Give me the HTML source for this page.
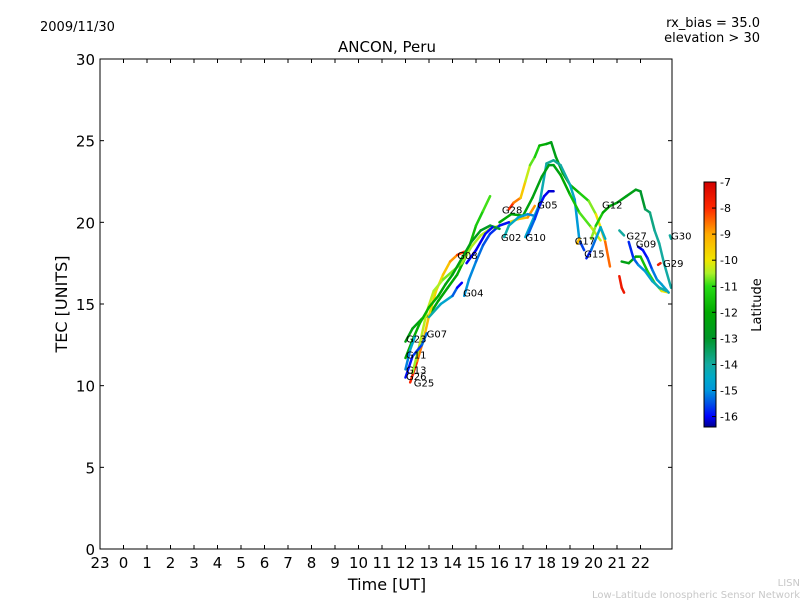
<!DOCTYPE html>
<html><head><meta charset="utf-8"><style>
body{margin:0;background:#fff;}
svg{display:block;font-family:"DejaVu Sans","Liberation Sans",sans-serif;}
</style></head><body>
<svg id="chart" width="800" height="600" viewBox="0 0 800 600">
<defs><linearGradient id="jet" x1="0" y1="1" x2="0" y2="0"></linearGradient></defs>
<text x="40" y="31" font-size="13">2009/11/30</text>
<text x="760" y="27" font-size="13" text-anchor="end">rx_bias = 35.0</text>
<text x="760" y="42" font-size="13" text-anchor="end">elevation &gt; 30</text>
<text x="387" y="52" font-size="15" text-anchor="middle">ANCON, Peru</text>
<text x="0" y="0" font-size="16" text-anchor="middle" transform="translate(67,304) rotate(-90)">TEC [UNITS]</text>
<text x="387" y="590" font-size="16" text-anchor="middle">Time [UT]</text>
<text x="800" y="586" font-size="10" fill="#c8c8c8" text-anchor="end">LISN</text>
<text x="800" y="598" font-size="10" fill="#c8c8c8" text-anchor="end">Low-Latitude Ionospheric Sensor Network</text>
<g id="ticks"></g>
<g id="tracks"></g>
<g id="labels"></g>
<rect x="100" y="59" width="572" height="490" fill="none" stroke="#000" stroke-width="1"/>
<rect x="704" y="182" width="12" height="245" fill="url(#jet)" stroke="#000" stroke-width="1"/>
<g id="cbticks"></g>
<text x="0" y="0" font-size="13" text-anchor="middle" transform="translate(761,305) rotate(-90)">Latitude</text>
</svg>
<script>
const xTicks=[-1,0,1,2,3,4,5,6,7,8,9,10,11,12,13,14,15,16,17,18,19,20,21,22];
const xTickLabels=["23","0","1","2","3","4","5","6","7","8","9","10","11","12","13","14","15","16","17","18","19","20","21","22"];
const yTicks=[0,5,10,15,20,25,30];
const cbTicks=[-7,-8,-9,-10,-11,-12,-13,-14,-15,-16];
const trackG23=[[12.0,12.7,-12.5],[12.3,13.5,-12.3],[12.7,14.1,-12.5],[13.0,14.3,-12.3],[13.4,15.2,-12],[13.8,16.0,-12.2],[14.2,16.8,-12],[14.6,18.0,-11.8],[15.0,19.8,-11.5],[15.3,20.7,-11.2],[15.6,21.6,-10.6]];
const trackG25=[[12.2,10.2,-7.6],[12.5,11.5,-8.2],[12.8,13.0,-9.0],[13.0,14.3,-9.6],[13.3,15.8,-9.9],[13.6,16.8,-9.6],[13.9,17.6,-9.2],[14.2,18.0,-8.5],[14.5,18.2,-7.8]];
const trackG07=[[12.3,10.8,-10.6],[12.6,12.5,-10.5],[12.9,14.5,-10.3],[13.2,15.8,-10.4],[13.6,16.5,-10.6],[14.0,17.0,-10.8],[14.4,17.5,-10.6],[14.8,18.5,-10.5],[15.2,19.2,-10.4],[15.6,19.6,-10.3],[16.0,19.8,-10.2],[16.4,20.0,-10.0],[16.8,20.2,-9.6],[17.2,20.3,-9.2],[17.5,21.0,-8.5]];
const trackG28=[[16.4,20.8,-7.8],[16.6,21.2,-8.3],[16.9,21.5,-9.0],[17.1,22.5,-10.0],[17.3,23.5,-10.6],[17.5,24.0,-11.0],[17.7,24.7,-11.6],[18.0,24.8,-12.2],[18.2,24.9,-12.5],[18.4,24.0,-12.6],[18.7,23.0,-12.4],[19.0,22.3,-12.0],[19.4,21.8,-11.6],[19.8,21.3,-11.0],[20.1,20.5,-10.3],[20.3,19.7,-9.6],[20.5,18.8,-9.0],[20.7,17.3,-8.0]];
const trackG10=[[17.1,19.1,-14.8],[17.7,21.1,-14.4],[18.0,23.6,-14.0],[18.3,23.8,-13.9],[18.6,23.5,-13.9],[19.0,22.3,-14.2],[19.2,21.4,-14.6],[19.4,18.9,-15.2],[19.6,18.3,-16.0]];
const trackG05=[[16.0,20.0,-12.2],[16.5,20.5,-12.0],[17.0,20.4,-12.3],[17.4,21.5,-12.4],[17.8,22.8,-12.5],[18.1,23.5,-12.6],[18.3,23.5,-12.6],[18.6,22.9,-12.2],[19.0,21.7,-11.8],[19.4,20.6,-11.2],[19.9,19.7,-10.5],[20.3,18.9,-10.0]];
const trackG12=[[19.9,19.0,-10.2],[20.1,19.8,-11.0],[20.4,20.6,-11.8],[20.7,21.0,-12.2],[21.0,21.2,-12.4],[21.4,21.6,-12.5],[21.8,22.0,-12.6],[22.0,21.9,-12.8],[22.2,20.8,-13.3],[22.4,20.6,-13.6],[22.6,19.5,-13.9],[22.8,18.7,-14.0],[23.0,17.5,-14.0],[23.3,16.0,-14.1]];
const trackG27a=[[21.1,19.5,-14.0],[21.3,19.2,-14.0]];
const trackG27b=[[21.2,17.6,-12.6],[21.5,17.5,-12.4],[21.8,17.9,-12.2],[22.0,17.9,-11.8],[22.3,17.0,-11.3],[22.6,16.3,-11.0],[22.9,15.8,-10.3],[23.2,15.7,-9.6]];
const trackG09=[[21.9,18.5,-16.1],[22.1,18.3,-16.0],[22.3,17.8,-15.8],[22.5,17.1,-15.4],[22.7,16.5,-15.0],[22.9,16.2,-14.8],[23.2,15.7,-14.6]];
const trackG27c=[[21.5,18.8,-15.9],[21.7,17.8,-15.6],[21.9,17.4,-15.2],[22.2,17.0,-14.9],[22.5,16.4,-14.5],[22.8,16.0,-14.2],[23.1,15.8,-14.0]];
const trackRed=[[21.1,16.7,-7.7],[21.2,16.0,-7.6],[21.3,15.7,-7.6]];
const trackG15=[[19.7,17.8,-16.0],[19.9,18.3,-15.6],[20.1,19.0,-15.0],[20.3,19.7,-14.6],[20.5,19.0,-14.3]];
const trackG17=[[19.3,18.7,-9.3],[19.4,19.0,-9.3]];
const trackG29=[[22.75,17.4,-7.7],[22.85,17.5,-7.7]];
const trackG30=[[23.25,19.2,-14],[23.3,19.0,-14]];
const trackG02=[[16.2,19.1,-14.0],[16.4,19.8,-14.3],[16.8,20.3,-14.6],[17.2,20.5,-15.0],[17.5,20.4,-15.2]];
const trackB=[[17.2,19.2,-15.2],[17.5,20.2,-15.5],[17.7,21.0,-15.8],[17.9,21.6,-16.0],[18.1,21.9,-16.1],[18.3,21.9,-16.2]];
const trackG04=[[14.5,15.5,-15.0],[14.7,16.5,-15.0],[15.0,17.6,-15.2],[15.3,18.6,-15.4],[15.6,19.3,-15.6],[16.0,19.8,-15.8],[16.4,20.0,-16.0]];
const trackG13=[[12.0,10.5,-16.0],[12.3,11.8,-15.8],[12.7,12.5,-15.5],[12.9,13.2,-15.2]];
const trackG11=[[12.0,11.7,-12.2],[12.3,12.8,-12.0],[12.6,13.8,-11.8],[13.0,14.8,-11.8],[13.4,15.5,-12.0],[13.7,16.2,-12.2],[14.0,16.8,-12.3],[14.4,17.8,-12.4],[14.8,18.8,-12.5],[15.2,19.5,-12.7],[15.6,19.8,-13.0],[16.0,19.6,-13.2]];
const trackTeal=[[13.0,14.2,-14.0],[13.5,15.0,-14.3],[14.0,15.5,-15.0],[14.2,16.0,-15.8],[14.4,16.3,-16.2]];
const trackBlue2=[[14.6,17.5,-16.0],[15.0,18.3,-16.1],[15.4,19.3,-16.0],[15.7,19.7,-15.9]];
const trackG26=[[12.0,11.0,-15.5],[12.2,12.2,-14.8],[12.4,13.0,-14.3]];
const tracks=[trackG23,trackG25,trackG07,trackG28,trackG10,trackG05,trackG12,trackG27a,trackG27b,trackG09,trackG27c,trackRed,trackG15,trackG17,trackG29,trackG30,trackG02,trackB,trackG04,trackG13,trackG11,trackTeal,trackBlue2,trackG26];
const labelNames=["G23","G07","G11","G13","G26","G25","G04","G08","G28","G02","G10","G05","G17","G15","G12","G27","G09","G30","G29"];
const labelX=[12.02,12.9,12.02,12.02,12.02,12.35,14.45,14.2,16.1,16.06,17.1,17.6,19.2,19.6,20.36,21.4,21.8,23.3,22.96];
const labelY=[12.9,13.2,11.9,11.0,10.6,10.2,15.7,18.0,20.8,19.1,19.1,21.1,18.9,18.1,21.1,19.2,18.7,19.2,17.5];

const NS="http://www.w3.org/2000/svg";
const xs=h=>100+(h+1)*23.5;
const ys=t=>549-t*(490/30);
const cbY=l=>182+(-7-l)*(245/9.4);
const cmap=[[-16.4,[0,0,140]],[-16,[0,0,255]],[-15.5,[0,80,230]],[-15,[0,150,220]],[-14.5,[0,170,200]],[-14,[20,170,160]],[-13.5,[10,160,100]],[-13,[0,150,40]],[-12,[0,170,0]],[-11,[40,220,20]],[-10.5,[170,240,40]],[-10,[240,230,0]],[-9,[255,170,0]],[-8,[255,40,0]],[-7,[210,0,0]]];
function latColor(l){
  if(l<=cmap[0][0])return `rgb(${cmap[0][1]})`;
  for(let i=0;i<cmap.length-1;i++){const a=cmap[i],b=cmap[i+1];
    if(l<=b[0]){const t=(l-a[0])/(b[0]-a[0]);return `rgb(${a[1].map((v,k)=>Math.round(v+(b[1][k]-v)*t)).join(',')})`;}}
  return `rgb(${cmap[cmap.length-1][1]})`;
}
function mk(tag,attrs,parent){const e=document.createElementNS(NS,tag);for(const k in attrs)e.setAttribute(k,attrs[k]);parent.appendChild(e);return e;}
const grad=document.getElementById('jet');
cmap.forEach(s=>{mk('stop',{offset:(s[0]+16.4)/9.4,'stop-color':`rgb(${s[1]})`},grad);});
const tg=document.getElementById('ticks');
xTicks.forEach((h,i)=>{
  const x=xs(h);
  const a=mk('line',{x1:x,x2:x,y1:549,y2:545,stroke:'#000'},tg);
  
  
  const b=mk('line',{x1:x,x2:x,y1:59,y2:63,stroke:'#000'},tg);
  
  
  const t=mk('text',{x:x,y:568,'font-size':15,'text-anchor':'middle'},tg);
  t.textContent=xTickLabels[i];
  
  
});
yTicks.forEach(v=>{
  const y=ys(v);
  const a=mk('line',{x1:100,x2:104,y1:y,y2:y,stroke:'#000'},tg);
  
  
  const b=mk('line',{x1:672,x2:668,y1:y,y2:y,stroke:'#000'},tg);
  
  
  const t=mk('text',{x:95,y:y+6,'font-size':15,'text-anchor':'end'},tg);
  t.textContent=v;
  
  
});
const trg=document.getElementById('tracks');
tracks.forEach(tr=>{
  const g=mk('g',{},trg);
  
  
  for(let i=0;i<tr.length-1;i++){
    const p=tr[i],q=tr[i+1];
    const s=mk('line',{x1:xs(p[0]),y1:ys(p[1]),x2:xs(q[0]),y2:ys(q[1]),stroke:latColor((p[2]+q[2])/2),'stroke-width':2.5,'stroke-linecap':'round'},g);
    
    
  }
});
const lg=document.getElementById('labels');
labelNames.forEach((n,i)=>{
  const t=mk('text',{x:xs(labelX[i]),y:ys(labelY[i])+4,'font-size':10},lg);
  t.textContent=n;
  
  
});
const cg=document.getElementById('cbticks');
cbTicks.forEach(v=>{
  const y=cbY(v);
  const a=mk('line',{x1:716,x2:712,y1:y,y2:y,stroke:'#000'},cg);
  
  
  const t=mk('text',{x:720,y:y+4,'font-size':11},cg);
  t.textContent=v;
  
  
});
</script>
</body></html>
